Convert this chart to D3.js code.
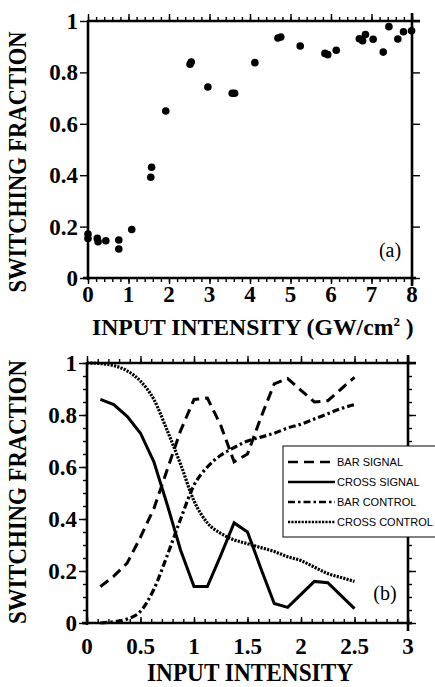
<!DOCTYPE html>
<html>
<head>
<meta charset="utf-8">
<script src="https://cdn.jsdelivr.net/npm/d3@7"></script>
<style>
    html, body { margin: 0; padding: 0; background: #fff; }
    svg { display: block; }
    .tick-label { font-family: "Liberation Serif", "Times New Roman", serif; font-weight: bold; font-size: 23px; fill: #000; }
    .title { font-family: "Liberation Serif", "Times New Roman", serif; font-weight: bold; font-size: 25px; fill: #000; }
    .legend-text { font-family: "Liberation Sans", Arial, sans-serif; font-size: 11px; fill: #000; }
</style>
</head>
<body>
<div id="chart"></div>
<script>
// panel (a): measured switching fraction vs input intensity (GW/cm^2)
const measuredIntensity = [0.0, 0.0, 0.23, 0.25, 0.44, 0.76, 0.76, 1.08, 1.55, 1.57, 1.92, 2.52, 2.55,
    2.96, 3.56, 3.62, 4.12, 4.69, 4.76, 5.24, 5.85, 5.92, 6.13, 6.70, 6.78, 6.85, 7.04, 7.29,
    7.43, 7.65, 7.79, 7.99];
const measuredFraction = [0.171, 0.154, 0.154, 0.141, 0.145, 0.148, 0.113, 0.189, 0.392, 0.431, 0.65, 0.832, 0.840,
    0.743, 0.719, 0.719, 0.838, 0.934, 0.938, 0.903, 0.874, 0.869, 0.886, 0.931, 0.923, 0.947, 0.929, 0.879,
    0.978, 0.930, 0.958, 0.962];

// panel (b): simulated curves vs normalised input intensity
const simIntensity = [0.125, 0.25, 0.375, 0.5, 0.625, 0.75, 0.875, 1.0, 1.125, 1.25,
    1.375, 1.5, 1.625, 1.75, 1.875, 2.0, 2.125, 2.25, 2.375, 2.5];
const barSignal = [0.14, 0.18, 0.23, 0.33, 0.44, 0.59, 0.74, 0.86, 0.865, 0.76,
    0.62, 0.65, 0.79, 0.92, 0.94, 0.895, 0.85, 0.855, 0.90, 0.945];
const crossSignal = [0.86, 0.84, 0.795, 0.73, 0.62, 0.455, 0.28, 0.14, 0.14, 0.26,
    0.385, 0.35, 0.21, 0.075, 0.06, 0.11, 0.16, 0.155, 0.105, 0.055];
const barControl = [0.0, 0.005, 0.015, 0.045, 0.13, 0.26, 0.40, 0.53, 0.60, 0.645,
    0.675, 0.70, 0.715, 0.73, 0.75, 0.765, 0.785, 0.805, 0.825, 0.84];
const crossControlIntensity = [0.0, 0.125, 0.25, 0.375, 0.5, 0.625, 0.75, 0.875, 1.0, 1.125, 1.25,
    1.375, 1.5, 1.625, 1.75, 1.875, 2.0, 2.125, 2.25, 2.375, 2.5];
const crossControl = [1.0, 0.998, 0.99, 0.97, 0.93, 0.86, 0.74, 0.61, 0.47, 0.385, 0.345,
    0.32, 0.305, 0.29, 0.275, 0.255, 0.24, 0.215, 0.19, 0.175, 0.16];

const legendLabels = ["BAR SIGNAL", "CROSS SIGNAL", "BAR CONTROL", "CROSS CONTROL"];
const topXTicks = [0, 1, 2, 3, 4, 5, 6, 7, 8];
const bottomXTicks = [0, 0.5, 1, 1.5, 2, 2.5, 3];
const yTicks = [0, 0.2, 0.4, 0.6, 0.8, 1];

const W = 435, H = 687;
const svg = d3.select("#chart").append("svg").attr("width", W).attr("height", H);

const lineStyles = {
    "BAR SIGNAL": { dash: "10,6", width: 3 },
    "CROSS SIGNAL": { dash: null, width: 3 },
    "BAR CONTROL": { dash: "7,3,2.5,3", width: 3.2 },
    "CROSS CONTROL": { dash: "2.2,1.2", width: 3.2 }
};

// draws frame, ticks and tick labels for one panel
function drawFrame(g, x, y, opt) {
    const [x0, x1] = x.range();
    const [yb, yt] = y.range();
    const sw = 2.6;

    const addTicks = (axis, transform) => {
        const t = g.append("g").attr("transform", transform).call(axis);
        t.select(".domain").remove();
        t.selectAll("line").attr("stroke", "#000").attr("stroke-width", 1.4);
        t.selectAll("text").remove();
    };
    addTicks(d3.axisBottom(x).tickValues(opt.xMinor).tickSize(opt.bottomMinorLen), `translate(0,${yb})`);
    addTicks(d3.axisBottom(x).tickValues(opt.xMajor).tickSize(opt.bottomMajorLen), `translate(0,${yb})`);
    addTicks(d3.axisTop(x).tickValues(opt.xMinor).tickSize(4), `translate(0,${yt})`);
    addTicks(d3.axisTop(x).tickValues(opt.xMajor).tickSize(7), `translate(0,${yt})`);
    if (opt.yMinor) {
        addTicks(d3.axisLeft(y).tickValues(opt.yMinor).tickSize(4), `translate(${x0},0)`);
        addTicks(d3.axisRight(y).tickValues(opt.yMinor).tickSize(4), `translate(${x1},0)`);
    }
    addTicks(d3.axisLeft(y).tickValues(yTicks).tickSize(8), `translate(${x0},0)`);
    addTicks(d3.axisRight(y).tickValues(yTicks).tickSize(8), `translate(${x1},0)`);

    // frame lines, slightly overshooting like the original
    const frame = [
        [x0 - 5, yb, x1 + 4, yb],
        [x0, yt, x1 + 8, yt],
        [x0, yb + 2, x0, yt - 1],
        [x1, yb + 8, x1, yt - 8]
    ];
    g.selectAll(null).data(frame).join("line")
        .attr("x1", d => d[0]).attr("y1", d => d[1])
        .attr("x2", d => d[2]).attr("y2", d => d[3])
        .attr("stroke", "#000").attr("stroke-width", sw);

    g.selectAll(null).data(yTicks).join("text")
        .attr("class", "tick-label")
        .attr("x", x0 - 10)
        .attr("y", d => y(d) + 8)
        .attr("text-anchor", "end")
        .text(d => d3.format("~g")(d));

    g.selectAll(null).data(opt.xMajor).join("text")
        .attr("class", "tick-label")
        .attr("x", d => x(d))
        .attr("y", yb + opt.xLabelDy)
        .attr("text-anchor", "middle")
        .text(d => d3.format("~g")(d));
}

// ---------- panel (a) ----------
const xa = d3.scaleLinear().domain([0, 8]).range([88, 412]);
const ya = d3.scaleLinear().domain([0, 1]).range([278, 21]);
const ga = svg.append("g");

drawFrame(ga, xa, ya, {
    xMajor: topXTicks,
    xMinor: d3.range(0, 8.01, 0.2),
    bottomMinorLen: 4,
    bottomMajorLen: 6,
    xLabelDy: 24
});

ga.selectAll("circle")
    .data(measuredIntensity.map((v, i) => [v, measuredFraction[i]]))
    .join("circle")
    .attr("cx", d => xa(d[0]))
    .attr("cy", d => ya(d[1]))
    .attr("r", 3.8)
    .attr("fill", "#000");

ga.append("text")
    .attr("x", 390).attr("y", 257)
    .attr("text-anchor", "middle")
    .style("font-family", "'Liberation Serif', 'Times New Roman', serif")
    .style("font-size", "20px")
    .text("(a)");

const ta = ga.append("text")
    .attr("class", "title")
    .attr("x", 92).attr("y", 335)
    .style("font-size", "23.7px");
ta.append("tspan").text("INPUT INTENSITY (GW/cm");
ta.append("tspan").attr("dy", -9).style("font-size", "13px").text("2");
ta.append("tspan").attr("dy", 9).text(" )");

ga.append("text")
    .attr("class", "title")
    .attr("transform", "translate(26,162) rotate(-90)")
    .attr("text-anchor", "middle")
    .attr("textLength", 261)
    .attr("lengthAdjust", "spacingAndGlyphs")
    .text("SWITCHING FRACTION");

// ---------- panel (b) ----------
const xb = d3.scaleLinear().domain([0, 3]).range([87, 408]);
const yb = d3.scaleLinear().domain([0, 1]).range([623, 363]);
const gb = svg.append("g");

drawFrame(gb, xb, yb, {
    xMajor: bottomXTicks,
    xMinor: d3.range(0, 3.001, 0.1),
    yMinor: d3.range(0, 1.001, 0.05),
    bottomMinorLen: -4,
    bottomMajorLen: -6,
    xLabelDy: 31
});

const series = [
    { name: "BAR SIGNAL", xs: simIntensity, ys: barSignal, curve: d3.curveLinear },
    { name: "CROSS SIGNAL", xs: simIntensity, ys: crossSignal, curve: d3.curveLinear },
    { name: "BAR CONTROL", xs: simIntensity, ys: barControl, curve: d3.curveMonotoneX },
    { name: "CROSS CONTROL", xs: crossControlIntensity, ys: crossControl, curve: d3.curveMonotoneX }
];

series.forEach(s => {
    const line = d3.line().x(d => xb(d[0])).y(d => yb(d[1])).curve(s.curve);
    gb.append("path")
        .datum(s.xs.map((v, i) => [v, s.ys[i]]))
        .attr("d", line)
        .attr("fill", "none")
        .attr("stroke", "#000")
        .attr("stroke-width", lineStyles[s.name].width)
        .attr("stroke-dasharray", lineStyles[s.name].dash);
});

gb.append("text")
    .attr("x", 385).attr("y", 600)
    .attr("text-anchor", "middle")
    .style("font-family", "'Liberation Serif', 'Times New Roman', serif")
    .style("font-size", "20px")
    .text("(b)");

gb.append("text")
    .attr("class", "title")
    .attr("x", 147).attr("y", 681)
    .style("font-size", "26px")
    .attr("textLength", 206)
    .attr("lengthAdjust", "spacingAndGlyphs")
    .text("INPUT INTENSITY");

gb.append("text")
    .attr("class", "title")
    .attr("transform", "translate(26,492) rotate(-90)")
    .attr("text-anchor", "middle")
    .attr("textLength", 264)
    .attr("lengthAdjust", "spacingAndGlyphs")
    .text("SWITCHING FRACTION");

// legend
const legend = gb.append("g").attr("transform", "translate(283,446)");
legend.append("rect")
    .attr("width", 160).attr("height", 91)
    .attr("fill", "#fff").attr("stroke", "#000").attr("stroke-width", 1);

legend.selectAll("line")
    .data(legendLabels)
    .join("line")
    .attr("x1", 5).attr("x2", 52)
    .attr("y1", (d, i) => 16 + i * 20)
    .attr("y2", (d, i) => 16 + i * 20)
    .attr("stroke", "#000")
    .attr("stroke-width", 2.6)
    .attr("stroke-dasharray", d => lineStyles[d].dash);

legend.selectAll("text")
    .data(legendLabels)
    .join("text")
    .attr("class", "legend-text")
    .attr("x", 54)
    .attr("y", (d, i) => 20 + i * 20)
    .text(d => d);
</script>
</body>
</html>
